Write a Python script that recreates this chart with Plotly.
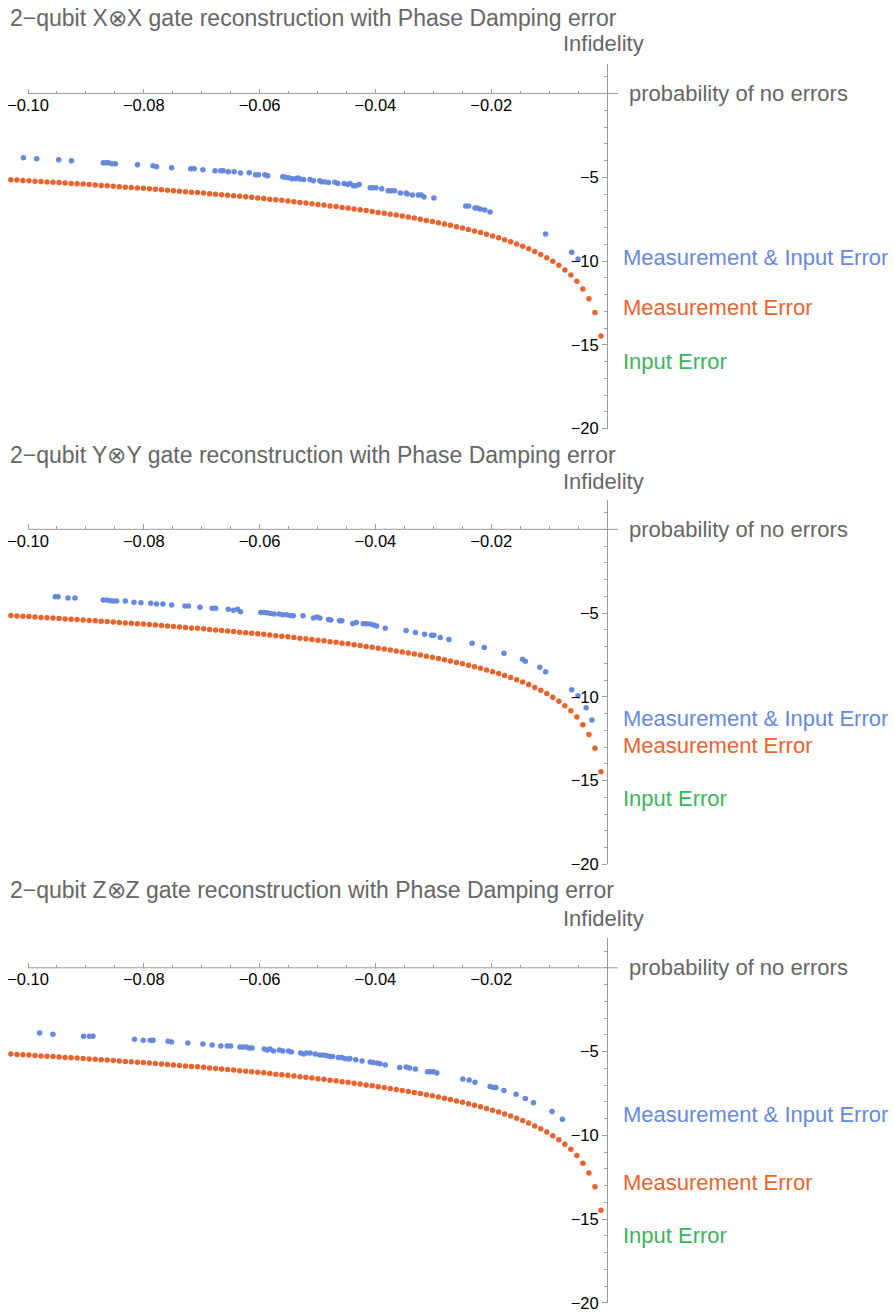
import plotly.graph_objects as go

# ---------------- data ----------------
TITLES = [
    "2\u2212qubit X\u2297X gate reconstruction with Phase Damping error",
    "2\u2212qubit Y\u2297Y gate reconstruction with Phase Damping error",
    "2\u2212qubit Z\u2297Z gate reconstruction with Phase Damping error",
]
SERIES_NAMES = ["Measurement & Input Error", "Measurement Error", "Input Error"]

# Measurement Error (same curve in all three panels)
MEAS_X = [-0.00104, -0.00208, -0.00312, -0.00416, -0.00520, -0.00624, -0.00728, -0.00832, -0.00936, -0.01040,
          -0.01144, -0.01248, -0.01352, -0.01456, -0.01560, -0.01664, -0.01768, -0.01872, -0.01976, -0.02080,
          -0.02184, -0.02288, -0.02392, -0.02496, -0.02600, -0.02704, -0.02808, -0.02912, -0.03016, -0.03120,
          -0.03224, -0.03328, -0.03432, -0.03536, -0.03640, -0.03744, -0.03848, -0.03952, -0.04056, -0.04160,
          -0.04264, -0.04368, -0.04472, -0.04576, -0.04680, -0.04784, -0.04888, -0.04992, -0.05096, -0.05200,
          -0.05304, -0.05408, -0.05512, -0.05616, -0.05720, -0.05824, -0.05928, -0.06032, -0.06136, -0.06240,
          -0.06344, -0.06448, -0.06552, -0.06656, -0.06760, -0.06864, -0.06968, -0.07072, -0.07176, -0.07280,
          -0.07384, -0.07488, -0.07592, -0.07696, -0.07800, -0.07904, -0.08008, -0.08112, -0.08216, -0.08320,
          -0.08424, -0.08528, -0.08632, -0.08736, -0.08840, -0.08944, -0.09048, -0.09152, -0.09256, -0.09360,
          -0.09464, -0.09568, -0.09672, -0.09776, -0.09880, -0.09984, -0.10088, -0.10192, -0.10296]
MEAS_Y = [-14.48, -13.07, -12.25, -11.67, -11.21, -10.84, -10.53, -10.26, -10.02, -9.81,
          -9.61, -9.44, -9.27, -9.12, -8.98, -8.85, -8.73, -8.61, -8.50, -8.40,
          -8.30, -8.21, -8.12, -8.03, -7.95, -7.87, -7.79, -7.72, -7.64, -7.58,
          -7.51, -7.44, -7.38, -7.32, -7.26, -7.21, -7.15, -7.10, -7.04, -6.99,
          -6.94, -6.89, -6.84, -6.80, -6.75, -6.71, -6.66, -6.62, -6.58, -6.54,
          -6.50, -6.46, -6.42, -6.38, -6.35, -6.31, -6.27, -6.24, -6.20, -6.17,
          -6.14, -6.10, -6.07, -6.04, -6.01, -5.98, -5.94, -5.91, -5.89, -5.86,
          -5.83, -5.80, -5.77, -5.74, -5.72, -5.69, -5.66, -5.64, -5.61, -5.59,
          -5.56, -5.53, -5.51, -5.49, -5.46, -5.44, -5.41, -5.39, -5.37, -5.35,
          -5.32, -5.30, -5.28, -5.26, -5.24, -5.21, -5.19, -5.17, -5.15]

# Measurement & Input Error, panel 1 (X⊗X)
BOTH_X1 = [-0.1008, -0.0985, -0.0947, -0.0925, -0.0870, -0.0865, -0.0861, -0.0855, -0.0849, -0.0811,
           -0.0784, -0.0778, -0.0752, -0.0719, -0.0713, -0.0698, -0.0677, -0.0667, -0.0663, -0.0654,
           -0.0644, -0.0633, -0.0618, -0.0607, -0.0602, -0.0591, -0.0586, -0.0560, -0.0556, -0.0550,
           -0.0544, -0.0538, -0.0534, -0.0530, -0.0524, -0.0513, -0.0507, -0.0496, -0.0493, -0.0487,
           -0.0481, -0.0470, -0.0465, -0.0454, -0.0448, -0.0444, -0.0438, -0.0434, -0.0428, -0.0409,
           -0.0405, -0.0399, -0.0389, -0.0378, -0.0373, -0.0367, -0.0357, -0.0347, -0.0345, -0.0336,
           -0.0326, -0.0321, -0.0316, -0.0299, -0.0244, -0.0239, -0.0228, -0.0224, -0.0219, -0.0211,
           -0.0202, -0.0106, -0.0061, -0.0050]
BOTH_Y1 = [-3.83, -3.89, -3.95, -4.01, -4.13, -4.13, -4.13, -4.19, -4.19, -4.25,
           -4.31, -4.37, -4.43, -4.49, -4.49, -4.55, -4.61, -4.61, -4.61, -4.67,
           -4.67, -4.75, -4.73, -4.85, -4.85, -4.85, -4.91, -4.97, -5.00, -5.03,
           -5.09, -5.09, -5.05, -5.10, -5.14, -5.14, -5.21, -5.21, -5.27, -5.28,
           -5.32, -5.30, -5.38, -5.38, -5.44, -5.38, -5.50, -5.50, -5.44, -5.62,
           -5.62, -5.62, -5.68, -5.80, -5.80, -5.80, -5.94, -5.94, -6.00, -6.06,
           -6.06, -6.06, -6.18, -6.24, -6.72, -6.72, -6.84, -6.84, -6.90, -6.96,
           -7.07, -8.39, -9.48, -9.88]

# Measurement & Input Error, panel 2 (Y⊗Y)
BOTH_X2 = [-0.0953, -0.0948, -0.0931, -0.0919, -0.0870, -0.0864, -0.0858, -0.0853, -0.0847, -0.0832,
           -0.0817, -0.0805, -0.0788, -0.0778, -0.0767, -0.0752, -0.0729, -0.0723, -0.0703, -0.0682,
           -0.0676, -0.0654, -0.0645, -0.0638, -0.0633, -0.0598, -0.0592, -0.0587, -0.0581, -0.0575,
           -0.0566, -0.0560, -0.0553, -0.0547, -0.0542, -0.0525, -0.0507, -0.0501, -0.0496, -0.0481,
           -0.0477, -0.0462, -0.0458, -0.0439, -0.0433, -0.0421, -0.0415, -0.0409, -0.0403, -0.0398,
           -0.0383, -0.0347, -0.0331, -0.0315, -0.0303, -0.0299, -0.0288, -0.0273, -0.0233, -0.0212,
           -0.0178, -0.0146, -0.0141, -0.0116, -0.0106, -0.0061, -0.0050, -0.0036, -0.0026]
BOTH_Y2 = [-4.02, -4.02, -4.10, -4.10, -4.22, -4.22, -4.26, -4.28, -4.28, -4.28,
           -4.36, -4.38, -4.42, -4.46, -4.46, -4.52, -4.58, -4.58, -4.66, -4.72,
           -4.72, -4.78, -4.84, -4.78, -4.92, -4.96, -4.96, -4.98, -5.02, -5.06,
           -5.06, -5.10, -5.10, -5.14, -5.16, -5.16, -5.30, -5.24, -5.30, -5.38,
           -5.42, -5.46, -5.46, -5.62, -5.56, -5.64, -5.64, -5.66, -5.72, -5.78,
           -5.90, -6.04, -6.16, -6.26, -6.32, -6.32, -6.46, -6.58, -6.81, -7.05,
           -7.40, -7.76, -7.88, -8.24, -8.50, -9.58, -9.93, -10.65, -11.39]

# Measurement & Input Error, panel 3 (Z⊗Z)
BOTH_X3 = [-0.0980, -0.0957, -0.0904, -0.0894, -0.0888, -0.0816, -0.0801, -0.0789, -0.0784, -0.0758,
           -0.0752, -0.0724, -0.0698, -0.0682, -0.0667, -0.0656, -0.0650, -0.0634, -0.0629, -0.0623,
           -0.0618, -0.0613, -0.0592, -0.0587, -0.0582, -0.0576, -0.0566, -0.0560, -0.0550, -0.0545,
           -0.0529, -0.0524, -0.0519, -0.0513, -0.0504, -0.0496, -0.0490, -0.0484, -0.0478, -0.0474,
           -0.0464, -0.0458, -0.0453, -0.0447, -0.0444, -0.0434, -0.0423, -0.0409, -0.0404, -0.0397,
           -0.0392, -0.0383, -0.0358, -0.0347, -0.0341, -0.0331, -0.0310, -0.0305, -0.0300, -0.0294,
           -0.0249, -0.0238, -0.0228, -0.0202, -0.0196, -0.0192, -0.0178, -0.0157, -0.0141, -0.0127,
           -0.0095, -0.0077]
BOTH_Y3 = [-3.90, -3.96, -4.08, -4.08, -4.08, -4.26, -4.32, -4.32, -4.32, -4.38,
           -4.43, -4.49, -4.55, -4.61, -4.67, -4.67, -4.67, -4.73, -4.73, -4.73,
           -4.79, -4.79, -4.85, -4.91, -4.85, -4.97, -4.91, -4.97, -4.97, -5.03,
           -5.09, -5.15, -5.09, -5.09, -5.15, -5.21, -5.21, -5.25, -5.29, -5.29,
           -5.35, -5.35, -5.41, -5.45, -5.41, -5.49, -5.57, -5.63, -5.65, -5.69,
           -5.73, -5.81, -5.95, -5.92, -5.98, -6.04, -6.20, -6.20, -6.20, -6.28,
           -6.64, -6.70, -6.84, -7.08, -7.14, -7.14, -7.32, -7.55, -7.81, -8.05,
           -8.58, -9.04]

BOTH_X = [BOTH_X1, BOTH_X2, BOTH_X3]
BOTH_Y = [BOTH_Y1, BOTH_Y2, BOTH_Y3]

# label heights (in y data units) for each panel: [M&I, M, I]
LABEL_Y = [[-9.82, -12.8, -15.97], [-11.28, -12.89, -16.10], [-8.76, -12.81, -15.96]]

X_TICKS = [-0.10, -0.08, -0.06, -0.04, -0.02]
X_TICKTEXT = ["\u22120.10", "\u22120.08", "\u22120.06", "\u22120.04", "\u22120.02"]
Y_TICKS = [-20, -15, -10, -5]
Y_TICKTEXT = ["\u221220", "\u221215", "\u221210", "\u22125"]

# ---------------- style / layout ----------------
W, H = 894, 1315
H_EFF = 1306          # effective rendered height used for paper-fraction placement
BLUE = "#6688DD"
ORANGE = "#E8642F"
GREEN = "#3DB35E"
COLORS = [BLUE, ORANGE, GREEN]
AXIS_GRAY = "#9a9a9a"
TEXT_GRAY = "#666666"
FONT = "Liberation Sans, Arial, sans-serif"

Y0_PX = [93.5, 529.3, 967.8]      # pixel row of y = 0 for each panel
PX_PER_UNIT = 16.75
Y_TOP = 1.76
ORIGIN_X_PX = 607
X_RANGE = [-0.10484, 0.0019]
X_DOMAIN = [0, 618 / W]
TITLE_PX = [18, 455, 890]
INFID_PX = [44, 481, 918]

fig = go.Figure()
layout = dict(
    width=W, height=H, margin=dict(l=0, r=0, t=0, b=0),
    paper_bgcolor="white", plot_bgcolor="white", showlegend=False,
    font=dict(family=FONT, color="black"),
)
annotations = []
shapes = []

for i in range(3):
    sfx = "" if i == 0 else str(i + 1)
    xa, ya = "x" + sfx, "y" + sfx
    y0 = Y0_PX[i]
    bottom_px = y0 + 20 * PX_PER_UNIT
    top_px = y0 - Y_TOP * PX_PER_UNIT
    ydom = [1 - bottom_px / H_EFF, 1 - top_px / H_EFF]

    fig.add_trace(go.Scatter(x=MEAS_X, y=MEAS_Y, mode="markers", xaxis=xa, yaxis=ya,
                             marker=dict(color=ORANGE, size=5.5, line=dict(width=0)),
                             name=SERIES_NAMES[1], cliponaxis=False))
    fig.add_trace(go.Scatter(x=BOTH_X[i], y=BOTH_Y[i], mode="markers", xaxis=xa, yaxis=ya,
                             marker=dict(color=BLUE, size=5.5, line=dict(width=0)),
                             name=SERIES_NAMES[0], cliponaxis=False))

    layout["xaxis" + sfx] = dict(
        domain=X_DOMAIN, range=X_RANGE, anchor="free", position=1 - y0 / H_EFF,
        showgrid=False, zeroline=False, showline=False,
        tickmode="array", tickvals=X_TICKS, ticktext=X_TICKTEXT,
        ticks="inside", ticklen=5, tickwidth=1, tickcolor=AXIS_GRAY,
        tickfont=dict(size=16.5, color="black", family=FONT),
        minor=dict(ticks="inside", ticklen=3, tickwidth=1, tickcolor=AXIS_GRAY, tick0=0, dtick=0.005),
        fixedrange=True,
    )
    layout["yaxis" + sfx] = dict(
        domain=ydom, range=[-20, Y_TOP], anchor="free", position=ORIGIN_X_PX / W, side="left",
        showgrid=False, zeroline=False, showline=True, linecolor=AXIS_GRAY, linewidth=1,
        tickmode="array", tickvals=Y_TICKS, ticktext=Y_TICKTEXT,
        ticks="outside", ticklen=5, tickwidth=1, tickcolor=AXIS_GRAY,
        tickfont=dict(size=16.5, color="black", family=FONT),
        minor=dict(ticks="outside", ticklen=3, tickwidth=1, tickcolor=AXIS_GRAY, tick0=0, dtick=1),
        fixedrange=True,
    )
    # x axis line (from -0.10 to the right end of the axis)
    shapes.append(dict(type="line", xref=xa, yref=ya, x0=X_TICKS[0], x1=X_RANGE[1], y0=0, y1=0,
                       line=dict(color=AXIS_GRAY, width=1)))

    annotations.append(dict(text=TITLES[i], xref="paper", yref="paper", x=8 / W, y=1 - TITLE_PX[i] / H_EFF,
                            xanchor="left", yanchor="middle", showarrow=False,
                            font=dict(size=23, color=TEXT_GRAY, family=FONT)))
    annotations.append(dict(text="Infidelity", xref="paper", yref="paper", x=646 / W, y=1 - INFID_PX[i] / H_EFF,
                            xanchor="right", yanchor="middle", showarrow=False,
                            font=dict(size=22, color=TEXT_GRAY, family=FONT)))
    annotations.append(dict(text="probability of no errors", xref="paper", yref=ya, x=627 / W, y=0,
                            xanchor="left", yanchor="middle", showarrow=False,
                            font=dict(size=22, color=TEXT_GRAY, family=FONT)))
    for j in range(3):
        annotations.append(dict(text=SERIES_NAMES[j], xref="paper", yref=ya, x=621 / W, y=LABEL_Y[i][j],
                                xanchor="left", yanchor="middle", showarrow=False,
                                font=dict(size=22, color=COLORS[j], family=FONT)))

layout["annotations"] = annotations
layout["shapes"] = shapes
fig.update_layout(**layout)
fig.write_html(
    "out.html",
    config={"displayModeBar": False},
    post_script="document.body.style.margin='0';document.body.style.padding='0';document.body.style.overflow='hidden';",
)
